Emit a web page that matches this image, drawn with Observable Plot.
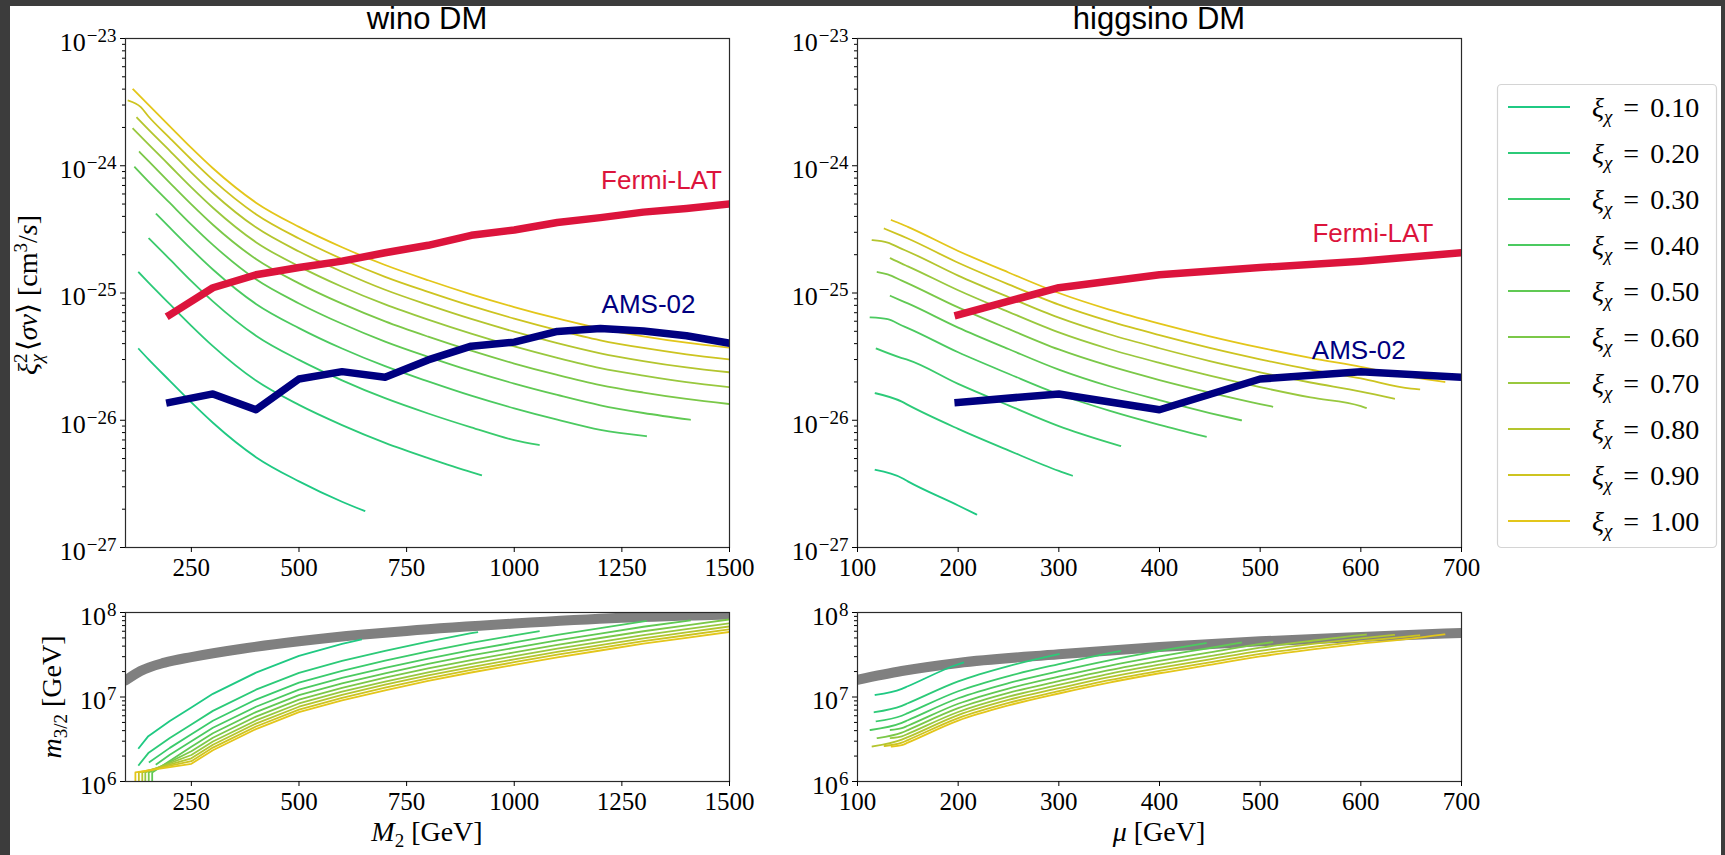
<!DOCTYPE html>
<html>
<head>
<meta charset="utf-8">
<script src="https://cdn.jsdelivr.net/npm/d3@7"></script>
<script src="https://cdn.jsdelivr.net/npm/@observablehq/plot@0.6"></script>
<style>
  html, body { margin: 0; padding: 0; background: #3c3c3c; }
  #page { position: relative; width: 1725px; height: 855px; background: #3c3c3c; overflow: hidden; }
  #sheet { position: absolute; left: 10px; top: 6px; width: 1711px; height: 849px; background: #ffffff; }
  #page svg { position: absolute; }
</style>
</head>
<body>
<div id="page"><div id="sheet"></div></div>
<script>
// ---------------- data ----------------
const xiValues = [0.1, 0.2, 0.3, 0.4, 0.5, 0.6, 0.7, 0.8, 0.9, 1.0];
const xiLabels = ["0.10", "0.20", "0.30", "0.40", "0.50", "0.60", "0.70", "0.80", "0.90", "1.00"];
const xiColors = ["#1fc983", "#2cca78", "#3acb6c", "#4bca60", "#60c953", "#7bc848", "#99c83e", "#b4c52e", "#cdc420", "#e3c61a"];

// experimental limits (same for both panels)
const limitMass = [200, 300, 400, 500, 600, 700, 800, 900, 1000, 1100, 1200, 1300, 1400, 1500];
const fermiLimit = [6.74e-26, 1.10e-25, 1.39e-25, 1.585e-25, 1.78e-25, 2.07e-25, 2.37e-25, 2.84e-25, 3.13e-25, 3.58e-25, 3.91e-25, 4.32e-25, 4.62e-25, 5.01e-25];
const amsLimit = [1.38e-26, 1.61e-26, 1.21e-26, 2.11e-26, 2.41e-26, 2.18e-26, 2.98e-26, 3.82e-26, 4.11e-26, 4.99e-26, 5.26e-26, 5.02e-26, 4.61e-26, 4.03e-26];

// wino: xi^2 <sigma v> [cm^3/s] vs M2 [GeV], one list per xi
const winoSigma = [
  [[128,3.63e-26],[150,3.02e-26],[200,2.04e-26],[250,1.38e-26],[300,9.55e-27],[400,5.13e-27],[500,3.31e-27],[600,2.29e-27],[652,1.94e-27]],
  [[128,1.45e-25],[150,1.21e-25],[200,8.16e-26],[250,5.52e-26],[300,3.82e-26],[400,2.05e-26],[500,1.32e-26],[600,9.16e-27],[700,6.64e-27],[800,5.04e-27],[900,3.91e-27],[923,3.71e-27]],
  [[152,2.67e-25],[200,1.84e-25],[250,1.24e-25],[300,8.60e-26],[400,4.62e-26],[500,2.98e-26],[600,2.06e-26],[700,1.49e-26],[800,1.13e-26],[900,8.79e-27],[1000,6.98e-27],[1057,6.4e-27]],
  [[169,4.16e-25],[200,3.26e-25],[250,2.21e-25],[300,1.53e-25],[400,8.21e-26],[500,5.30e-26],[600,3.66e-26],[700,2.66e-26],[800,2.02e-26],[900,1.56e-26],[1000,1.24e-26],[1100,1.01e-26],[1200,8.40e-27],[1306,7.5e-27]],
  [[119,9.73e-25],[150,7.55e-25],[200,5.10e-25],[250,3.45e-25],[300,2.39e-25],[400,1.28e-25],[500,8.28e-26],[600,5.73e-26],[700,4.15e-26],[800,3.15e-26],[900,2.44e-26],[1000,1.94e-26],[1100,1.58e-26],[1200,1.31e-26],[1300,1.14e-26],[1408,1.01e-26]],
  [[130,1.28e-24],[150,1.09e-24],[200,7.34e-25],[250,4.97e-25],[300,3.44e-25],[400,1.85e-25],[500,1.19e-25],[600,8.24e-26],[700,5.98e-26],[800,4.54e-26],[900,3.52e-26],[1000,2.79e-26],[1100,2.27e-26],[1200,1.89e-26],[1300,1.65e-26],[1400,1.47e-26],[1500,1.34e-26]],
  [[115,1.95e-24],[150,1.48e-24],[200,1.00e-24],[250,6.76e-25],[300,4.68e-25],[400,2.51e-25],[500,1.62e-25],[600,1.12e-25],[700,8.13e-26],[800,6.17e-26],[900,4.79e-26],[1000,3.80e-26],[1100,3.09e-26],[1200,2.57e-26],[1300,2.24e-26],[1400,1.99e-26],[1500,1.82e-26]],
  [[124,2.38e-24],[150,1.93e-24],[200,1.31e-24],[250,8.83e-25],[300,6.11e-25],[400,3.28e-25],[500,2.12e-25],[600,1.47e-25],[700,1.06e-25],[800,8.06e-26],[900,6.25e-26],[1000,4.97e-26],[1100,4.04e-26],[1200,3.36e-26],[1300,2.92e-26],[1400,2.60e-26],[1500,2.38e-26]],
  [[104,3.25e-24],[132,2.90e-24],[150,2.45e-24],[200,1.65e-24],[250,1.12e-24],[300,7.74e-25],[400,4.16e-25],[500,2.68e-25],[600,1.85e-25],[700,1.34e-25],[800,1.02e-25],[900,7.91e-26],[1000,6.29e-26],[1100,5.11e-26],[1200,4.25e-26],[1300,3.70e-26],[1400,3.30e-26],[1500,3.01e-26]],
  [[115,3.98e-24],[150,3.02e-24],[200,2.04e-24],[250,1.38e-24],[300,9.55e-25],[400,5.13e-25],[500,3.31e-25],[600,2.29e-25],[700,1.66e-25],[800,1.26e-25],[900,9.77e-26],[1000,7.76e-26],[1100,6.31e-26],[1200,5.25e-26],[1300,4.57e-26],[1400,4.07e-26],[1500,3.72e-26]]
];

// higgsino: xi^2 <sigma v> vs mu [GeV]
const higgsinoSigma = [
  [[118,4.07e-27],[144,3.52e-27],[150,3.31e-27],[200,2.14e-27],[218,1.82e-27]],
  [[118,1.63e-26],[144,1.40e-26],[150,1.32e-26],[200,8.56e-27],[250,5.80e-27],[300,4.00e-27],[313,3.68e-27]],
  [[119,3.65e-26],[144,3.08e-26],[150,2.98e-26],[200,1.93e-26],[250,1.31e-26],[300,9.00e-27],[350,6.67e-27],[361,6.28e-27]],
  [[113,6.43e-26],[130,6.22e-26],[144,5.55e-26],[150,5.30e-26],[200,3.42e-26],[250,2.32e-26],[300,1.60e-26],[350,1.19e-26],[400,9.20e-27],[446,7.43e-27]],
  [[133,9.48e-26],[144,8.68e-26],[150,8.28e-26],[200,5.35e-26],[250,3.63e-26],[300,2.50e-26],[350,1.85e-26],[400,1.44e-26],[450,1.14e-26],[481,1.00e-26]],
  [[120,1.46e-25],[130,1.40e-25],[144,1.25e-25],[150,1.19e-25],[200,7.70e-26],[250,5.22e-26],[300,3.60e-26],[350,2.67e-26],[400,2.07e-26],[450,1.65e-26],[500,1.34e-26],[512,1.28e-26]],
  [[133,1.87e-25],[144,1.70e-25],[150,1.62e-25],[200,1.05e-25],[250,7.11e-26],[300,4.90e-26],[350,3.63e-26],[400,2.82e-26],[450,2.24e-26],[500,1.82e-26],[550,1.51e-26],[600,1.29e-26],[605,1.25e-26]],
  [[115,2.60e-25],[130,2.49e-25],[144,2.22e-25],[150,2.12e-25],[200,1.37e-25],[250,9.28e-26],[300,6.40e-26],[350,4.74e-26],[400,3.68e-26],[450,2.92e-26],[500,2.38e-26],[550,1.98e-26],[600,1.68e-26],[633,1.48e-26]],
  [[127,3.20e-25],[144,2.81e-25],[150,2.68e-25],[200,1.73e-25],[250,1.17e-25],[300,8.10e-26],[350,6.00e-26],[400,4.66e-26],[450,3.70e-26],[500,3.01e-26],[550,2.50e-26],[600,2.13e-26],[650,1.77e-26],[658,1.75e-26]],
  [[134,3.73e-25],[144,3.47e-25],[150,3.31e-25],[200,2.14e-25],[250,1.45e-25],[300,1.00e-25],[350,7.41e-26],[400,5.75e-26],[450,4.57e-26],[500,3.72e-26],[550,3.09e-26],[600,2.63e-26],[650,2.19e-26],[683,2.00e-26]]
];

// gravitino mass bound (grey band) [GeV]
const winoBoundMass = [97, 132, 188, 250, 368, 500, 650, 750, 1000, 1250, 1500];
const winoBoundM32 = [1.57e7, 2.03e7, 2.55e7, 2.97e7, 3.73e7, 4.56e7, 5.48e7, 6.05e7, 7.39e7, 8.65e7, 9.47e7];
const higgsinoBoundMass = [100, 144, 200, 300, 400, 500, 600, 700];
const higgsinoBoundM32 = [1.60e7, 2.03e7, 2.53e7, 3.20e7, 3.91e7, 4.56e7, 5.14e7, 5.73e7];

// m_{3/2} [GeV] vs M2 for each xi (wino)
const winoM32 = [
  [[128,2.49e6],[150,3.44e6],[200,5.21e6],[250,7.53e6],[300,1.09e7],[400,1.94e7],[500,3.07e7],[600,4.24e7],[644,4.79e7]],
  [[128,1.57e6],[150,2.17e6],[200,3.28e6],[250,4.74e6],[300,6.85e6],[400,1.22e7],[500,1.93e7],[600,2.67e7],[700,3.52e7],[800,4.53e7],[900,5.70e7],[914,5.83e7]],
  [[153,1.70e6],[200,2.50e6],[250,3.62e6],[300,5.23e6],[400,9.31e6],[500,1.48e7],[600,2.04e7],[700,2.69e7],[800,3.46e7],[900,4.36e7],[1000,5.36e7],[1057,6.01e7]],
  [[169,1.60e6],[200,2.07e6],[250,2.99e6],[300,4.32e6],[400,7.67e6],[500,1.22e7],[600,1.68e7],[700,2.21e7],[800,2.85e7],[900,3.59e7],[1000,4.42e7],[1100,5.43e7],[1200,6.53e7],[1306,7.93e7]],
  [[159,8e5],[159,1.28e6],[250,2.58e6],[300,3.72e6],[400,6.62e6],[500,1.05e7],[600,1.45e7],[700,1.91e7],[800,2.46e7],[900,3.10e7],[1000,3.81e7],[1100,4.69e7],[1200,5.64e7],[1300,6.78e7],[1408,8.06e7]],
  [[151,8e5],[151,1.28e6],[250,2.28e6],[300,3.30e6],[400,5.86e6],[500,9.29e6],[600,1.28e7],[700,1.69e7],[800,2.18e7],[900,2.74e7],[1000,3.37e7],[1100,4.15e7],[1200,4.99e7],[1300,6.00e7],[1400,7.05e7],[1500,8.28e7]],
  [[143,8e5],[143,1.28e6],[250,2.06e6],[300,2.97e6],[400,5.28e6],[500,8.38e6],[600,1.16e7],[700,1.52e7],[800,1.96e7],[900,2.47e7],[1000,3.04e7],[1100,3.74e7],[1200,4.50e7],[1300,5.41e7],[1400,6.35e7],[1500,7.46e7]],
  [[136,8e5],[136,1.28e6],[250,1.88e6],[300,2.72e6],[400,4.84e6],[500,7.67e6],[600,1.06e7],[700,1.40e7],[800,1.80e7],[900,2.26e7],[1000,2.79e7],[1100,3.43e7],[1200,4.12e7],[1300,4.95e7],[1400,5.82e7],[1500,6.84e7]],
  [[128,8e5],[128,1.28e6],[250,1.74e6],[300,2.52e6],[400,4.48e6],[500,7.10e6],[600,9.79e6],[700,1.29e7],[800,1.66e7],[900,2.09e7],[1000,2.58e7],[1100,3.17e7],[1200,3.81e7],[1300,4.58e7],[1400,5.38e7],[1500,6.32e7]],
  [[120,8e5],[120,1.28e6],[250,1.62e6],[300,2.34e6],[400,4.17e6],[500,6.61e6],[600,9.12e6],[700,1.20e7],[800,1.55e7],[900,1.95e7],[1000,2.40e7],[1100,2.95e7],[1200,3.55e7],[1300,4.27e7],[1400,5.01e7],[1500,5.89e7]]
];

// m_{3/2} [GeV] vs mu for each xi (higgsino)
const higgsinoM32 = [
  [[118,1.06e7],[144,1.25e7],[150,1.34e7],[200,2.44e7],[205,2.55e7]],
  [[117,6.62e6],[144,7.87e6],[150,8.43e6],[200,1.53e7],[250,2.32e7],[300,3.21e7]],
  [[119,5.15e6],[144,6.00e6],[150,6.44e6],[200,1.17e7],[250,1.77e7],[300,2.45e7],[350,3.30e7],[361,3.50e7]],
  [[113,4.07e6],[144,4.95e6],[150,5.31e6],[200,9.66e6],[250,1.46e7],[300,2.02e7],[350,2.72e7],[400,3.51e7],[446,4.34e7]],
  [[133,4.07e6],[144,4.27e6],[150,4.57e6],[200,8.32e6],[250,1.26e7],[300,1.74e7],[350,2.34e7],[400,3.02e7],[450,3.80e7],[481,4.40e7]],
  [[120,3.27e6],[144,3.78e6],[150,4.06e6],[200,7.38e6],[250,1.12e7],[300,1.54e7],[350,2.08e7],[400,2.68e7],[450,3.37e7],[500,4.25e7],[512,4.45e7]],
  [[133,3.26e6],[144,3.41e6],[150,3.66e6],[200,6.65e6],[250,1.01e7],[300,1.39e7],[350,1.88e7],[400,2.42e7],[450,3.04e7],[500,3.83e7],[550,4.60e7],[600,5.41e7],[605,5.48e7]],
  [[115,2.60e6],[144,3.13e6],[150,3.35e6],[200,6.10e6],[250,9.23e6],[300,1.27e7],[350,1.72e7],[400,2.21e7],[450,2.79e7],[500,3.51e7],[550,4.22e7],[600,4.95e7],[633,5.43e7]],
  [[127,2.63e6],[144,2.88e6],[150,3.09e6],[200,5.62e6],[250,8.51e6],[300,1.17e7],[350,1.58e7],[400,2.04e7],[450,2.57e7],[500,3.24e7],[550,3.89e7],[600,4.57e7],[650,5.25e7],[658,5.37e7]],
  [[134,2.59e6],[144,2.69e6],[150,2.88e6],[200,5.25e6],[250,7.94e6],[300,1.10e7],[350,1.48e7],[400,1.91e7],[450,2.40e7],[500,3.02e7],[550,3.63e7],[600,4.27e7],[650,4.90e7],[683,5.50e7]]
];

// tick values and texts
const winoTicks = [250, 500, 750, 1000, 1250, 1500];
const higgsinoTicks = [100, 200, 300, 400, 500, 600, 700];
const sigmaTicks = [1e-27, 1e-26, 1e-25, 1e-24, 1e-23];
const m32Ticks = [1e6, 1e7, 1e8];
const titles = ["wino DM", "higgsino DM"];
const limitNames = ["Fermi-LAT", "AMS-02"];
// annotation anchors (data coordinates)
const winoAnnot = [[1342, 7.6e-25], [1312, 8.1e-26]];
const higgsinoAnnot = [[612, 2.95e-25], [598, 3.52e-26]];

// ---------------- drawing ----------------
const NS = "http://www.w3.org/2000/svg";
const page = document.getElementById("page");
const FW = 604;                 // frame width
const FERMI = "#dc143c", AMS = "#000080", GREY = "#808080";

function minorTicks(lo, hi) {
  const out = [];
  for (let e = lo; e < hi; e++) for (let k = 2; k <= 9; k++) out.push(k * Math.pow(10, e));
  return out;
}
function powLabel(d) {
  const e = Math.round(Math.log10(d));
  return "10^" + (e < 0 ? "\u2212" + (-e) : String(e));
}
function fixSup(svg) {
  svg.querySelectorAll("text").forEach(t => {
    const m = /^10\^(.+)$/.exec(t.textContent);
    if (!m) return;
    t.textContent = "";
    const a = document.createElementNS(NS, "tspan");
    a.setAttribute("dy", "4"); a.textContent = "10"; t.appendChild(a);
    const b = document.createElementNS(NS, "tspan");
    b.setAttribute("dy", "-9"); b.setAttribute("dx", "1"); b.setAttribute("font-size", "19");
    b.textContent = m[1]; t.appendChild(b);
  });
}
const P = d => d[0], V = d => d[1];

function panel(o) {
  const svg = Plot.plot({
    width: o.mL + FW + 12, height: o.mT + o.fh + 45,
    marginLeft: o.mL, marginRight: 12, marginTop: o.mT, marginBottom: 45,
    x: {type: "linear", domain: o.xDomain},
    y: {type: "log", domain: o.yDomain},
    style: {fontFamily: "'Liberation Serif', serif", fontSize: "25px", color: "#000",
            background: "transparent", overflow: "visible", maxWidth: "none"},
    marks: [
      ...o.marks,
      Plot.frame({stroke: "#2a2a2a", strokeWidth: 1.2}),
      Plot.axisX(o.xTicks, {tickSize: 5, tickPadding: 6, fontSize: 25, label: null, tickFormat: d => String(d)}),
      Plot.axisY(o.yMinor, {tickSize: 3, tickFormat: () => "", label: null}),
      Plot.axisY(o.yTicks, {tickSize: 5, tickPadding: 4, fontSize: 26, label: null, tickFormat: powLabel})
    ]
  });
  fixSup(svg);
  svg.style.left = o.left + "px";
  svg.style.top = o.top + "px";
  page.appendChild(svg);
}

function xiLines(series, lw, curve) {
  return series.map((s, i) => Plot.line(s, {x: P, y: V, stroke: xiColors[i], strokeWidth: lw,
    curve, clip: true, strokeLinecap: "square", strokeLinejoin: "round"}));
}
function limitMarks(annot) {
  const fermi = limitMass.map((m, i) => [m, fermiLimit[i]]);
  const ams = limitMass.map((m, i) => [m, amsLimit[i]]);
  return [
    Plot.line(fermi, {x: P, y: V, stroke: FERMI, strokeWidth: 7.5, clip: true, strokeLinecap: "square", strokeLinejoin: "round"}),
    Plot.line(ams, {x: P, y: V, stroke: AMS, strokeWidth: 7.5, clip: true, strokeLinecap: "square", strokeLinejoin: "round"}),
    Plot.text([annot[0]], {x: P, y: V, text: () => limitNames[0], fill: FERMI, fontFamily: "'Liberation Sans', sans-serif", fontSize: 26}),
    Plot.text([annot[1]], {x: P, y: V, text: () => limitNames[1], fill: AMS, fontFamily: "'Liberation Sans', sans-serif", fontSize: 26})
  ];
}
function boundMark(mass, m32) {
  return Plot.line(mass.map((m, i) => [m, m32[i]]), {x: P, y: V, stroke: GREY, strokeWidth: 10, curve: "monotone-x", clip: true});
}

const sigMinor = minorTicks(-27, -23);
const mMinor = minorTicks(6, 8);

// top-left: wino sigma v
panel({left: 0, top: 0, mL: 125, mT: 38, fh: 509, xDomain: [97, 1500], yDomain: [1e-27, 1e-23],
  xTicks: winoTicks, yTicks: sigmaTicks, yMinor: sigMinor,
  marks: [...xiLines(winoSigma, 1.8, "monotone-x"), ...limitMarks(winoAnnot)]});
// top-right: higgsino sigma v
panel({left: 757, top: 0, mL: 100, mT: 38, fh: 509, xDomain: [100, 700], yDomain: [1e-27, 1e-23],
  xTicks: higgsinoTicks, yTicks: sigmaTicks, yMinor: sigMinor,
  marks: [...xiLines(higgsinoSigma, 1.8, "monotone-x"), ...limitMarks(higgsinoAnnot)]});
// bottom-left: wino m3/2
panel({left: 0, top: 572, mL: 125, mT: 40, fh: 169, xDomain: [97, 1500], yDomain: [1e6, 1e8],
  xTicks: winoTicks, yTicks: m32Ticks, yMinor: mMinor,
  marks: [boundMark(winoBoundMass, winoBoundM32), ...xiLines(winoM32, 1.8, "linear")]});
// bottom-right: higgsino m3/2
panel({left: 757, top: 572, mL: 100, mT: 40, fh: 169, xDomain: [100, 700], yDomain: [1e6, 1e8],
  xTicks: higgsinoTicks, yTicks: m32Ticks, yMinor: mMinor,
  marks: [boundMark(higgsinoBoundMass, higgsinoBoundM32), ...xiLines(higgsinoM32, 1.8, "monotone-x")]});

// ---------------- overlay: titles, axis labels, legend ----------------
const ov = document.createElementNS(NS, "svg");
ov.setAttribute("width", 1725); ov.setAttribute("height", 855);
ov.style.left = "0px"; ov.style.top = "0px";
page.appendChild(ov);
function el(tag, attrs, parent, text) {
  const e = document.createElementNS(NS, tag);
  for (const k in attrs) e.setAttribute(k, attrs[k]);
  if (text != null) e.textContent = text;
  (parent || ov).appendChild(e);
  return e;
}
const SERIF = "'Liberation Serif', serif";
const SANS = "'Liberation Sans', sans-serif";
el("text", {x: 427, y: 29, "text-anchor": "middle", "font-family": SANS, "font-size": 31}, null, titles[0]);
el("text", {x: 1159, y: 29, "text-anchor": "middle", "font-family": SANS, "font-size": 31}, null, titles[1]);

// y label top
{
  const t = el("text", {transform: "translate(37,295) rotate(-90)", "text-anchor": "middle", "font-family": SERIF, "font-size": 28});
  el("tspan", {"font-style": "italic"}, t, "\u03BE");
  el("tspan", {dy: -10, "font-size": 19}, t, "2");
  el("tspan", {dx: -9, dy: 16, "font-size": 19, "font-style": "italic"}, t, "\u03C7");
  el("tspan", {dy: -6, dx: 3}, t, "\u27E8");
  el("tspan", {"font-style": "italic"}, t, "\u03C3v");
  el("tspan", {}, t, "\u27E9 [cm");
  el("tspan", {dy: -10, "font-size": 19}, t, "3");
  el("tspan", {dy: 10}, t, "/");
  el("tspan", {"font-style": "italic"}, t, "s");
  el("tspan", {}, t, "]");
}
// y label bottom
{
  const t = el("text", {transform: "translate(61,697) rotate(-90)", "text-anchor": "middle", "font-family": SERIF, "font-size": 28});
  el("tspan", {"font-style": "italic"}, t, "m");
  el("tspan", {dy: 6, "font-size": 19}, t, "3/2");
  el("tspan", {dy: -6}, t, "\u00A0[GeV]");
}
// x labels
{
  const t = el("text", {x: 427, y: 841, "text-anchor": "middle", "font-family": SERIF, "font-size": 28});
  el("tspan", {"font-style": "italic"}, t, "M");
  el("tspan", {dy: 6, "font-size": 19}, t, "2");
  el("tspan", {dy: -6}, t, "\u00A0[GeV]");
  const u = el("text", {x: 1159, y: 841, "text-anchor": "middle", "font-family": SERIF, "font-size": 28});
  el("tspan", {"font-style": "italic"}, u, "\u03BC");
  el("tspan", {}, u, "\u00A0[GeV]");
}
// legend
el("rect", {x: 1497.5, y: 84.5, width: 219, height: 463, rx: 4, fill: "#fff", "fill-opacity": 0.8, stroke: "#d4d4d4", "stroke-width": 1.2});
xiValues.forEach((xi, i) => {
  const y = 107 + 46 * i;
  el("line", {x1: 1508, x2: 1570, y1: y, y2: y, stroke: xiColors[i], "stroke-width": 2.2});
  const t = el("text", {x: 1592, y: y + 10, "font-family": SERIF, "font-size": 28});
  el("tspan", {"font-style": "italic"}, t, "\u03BE");
  el("tspan", {dy: 6, "font-size": 19, "font-style": "italic"}, t, "\u03C7");
  el("tspan", {dy: -6, dx: 11}, t, "=");
  el("tspan", {dx: 11}, t, xiLabels[i]);
});
</script>
</body>
</html>
